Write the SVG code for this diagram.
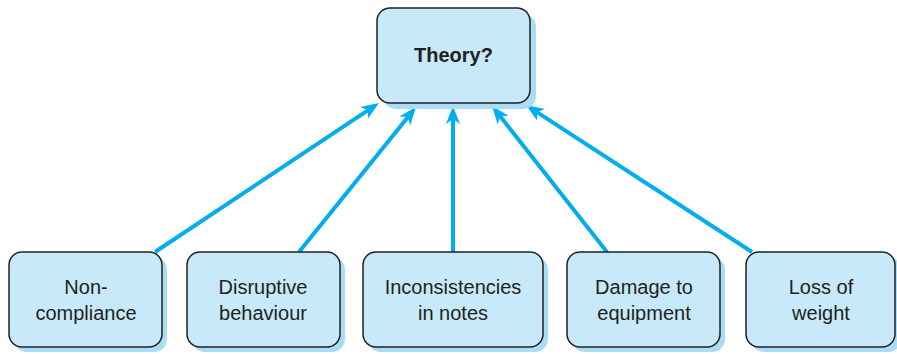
<svg xmlns="http://www.w3.org/2000/svg" width="897" height="354" viewBox="0 0 897 354">
  <style>
    .shadow { fill: #a9dcf5; }
    .box { fill: #c7e9f9; stroke: #231f20; stroke-width: 1.5; }
    .lbl { font-family: "Liberation Sans", Arial, sans-serif; font-size: 20px; fill: #231f20; text-anchor: middle; }
    .title { font-weight: bold; }
    .conn { stroke: #00aeef; stroke-width: 4; fill: none; marker-end: url(#arrow); }
  </style>
  <defs>
    <marker id="arrow" markerUnits="userSpaceOnUse" markerWidth="24" markerHeight="20" refX="10" refY="7" orient="auto" overflow="visible">
      <path d="M0,0 L18,7 L0,14 L5,7 z" fill="#00aeef"/>
    </marker>
  </defs>
  <rect width="897" height="354" fill="#ffffff"/>

  <g id="connectors">
    <line class="conn" x1="155" y1="252" x2="372.3" y2="107.4"/>
    <line class="conn" x1="299" y1="252" x2="411" y2="113.2"/>
    <line class="conn" x1="453" y1="252" x2="453" y2="114"/>
    <line class="conn" x1="607" y1="252" x2="497" y2="112.3"/>
    <line class="conn" x1="752" y1="252" x2="532.7" y2="109.4"/>
  </g>

  <g id="theory">
    <rect class="shadow" x="383" y="14" width="153" height="95" rx="13"/>
    <rect class="box" x="377" y="8" width="153" height="95" rx="13"/>
    <text class="lbl title" x="453.5" y="62">Theory?</text>
  </g>

  <g id="noncompliance">
    <rect class="shadow" x="14" y="257" width="153" height="95" rx="13"/>
    <rect class="box" x="9" y="252" width="153" height="95" rx="13"/>
    <text class="lbl" x="86" y="294">Non-</text>
    <text class="lbl" x="86" y="320">compliance</text>
  </g>

  <g id="disruptive">
    <rect class="shadow" x="192" y="257" width="153" height="95" rx="13"/>
    <rect class="box" x="187" y="252" width="153" height="95" rx="13"/>
    <text class="lbl" x="263" y="294">Disruptive</text>
    <text class="lbl" x="263" y="320">behaviour</text>
  </g>

  <g id="inconsistencies">
    <rect class="shadow" x="368" y="257" width="180" height="95" rx="13"/>
    <rect class="box" x="363" y="252" width="180" height="95" rx="13"/>
    <text class="lbl" x="453" y="294">Inconsistencies</text>
    <text class="lbl" x="453" y="320">in notes</text>
  </g>

  <g id="damage">
    <rect class="shadow" x="572" y="257" width="153" height="95" rx="13"/>
    <rect class="box" x="567" y="252" width="153" height="95" rx="13"/>
    <text class="lbl" x="644" y="294">Damage to</text>
    <text class="lbl" x="644" y="320">equipment</text>
  </g>

  <g id="weight">
    <rect class="shadow" x="751" y="257" width="150" height="95" rx="13"/>
    <rect class="box" x="746" y="252" width="149" height="95" rx="13"/>
    <text class="lbl" x="821" y="294">Loss of</text>
    <text class="lbl" x="821" y="320">weight</text>
  </g>
</svg>
